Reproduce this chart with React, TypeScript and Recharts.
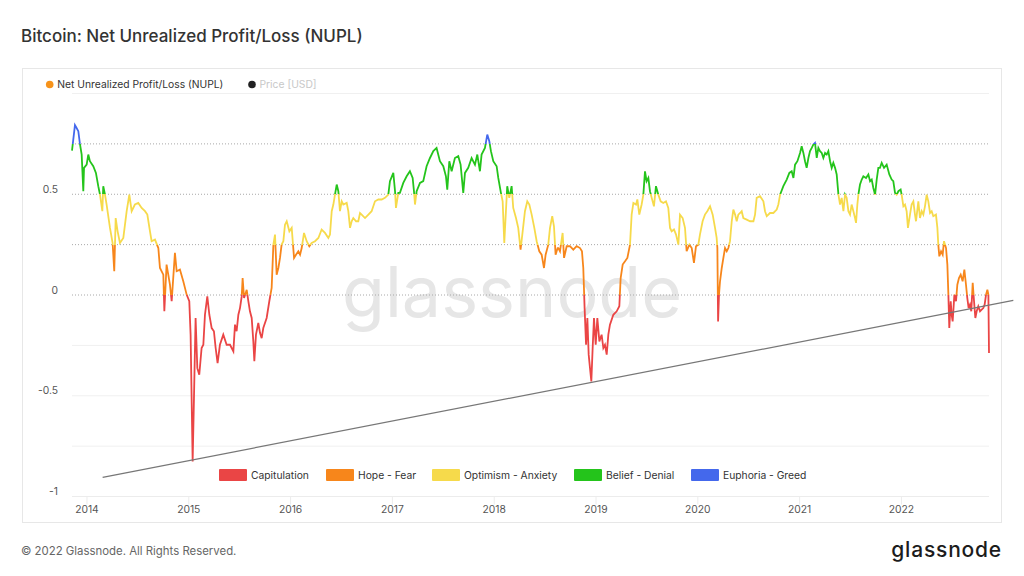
import { LineChart, Line, XAxis, YAxis, ReferenceLine } from 'recharts';

// NUPL readings, [year, value]
const nupl2013to2015: [number, number][] = [
  [2013.853, 0.717], [2013.882, 0.843], [2013.898, 0.829], [2013.915, 0.813], [2013.931, 0.75],
  [2013.948, 0.697], [2013.964, 0.515], [2013.971, 0.631], [2013.997, 0.647], [2014.013, 0.697],
  [2014.029, 0.664], [2014.062, 0.639], [2014.088, 0.606], [2014.111, 0.54], [2014.128, 0.498],
  [2014.151, 0.416], [2014.16, 0.54], [2014.177, 0.498], [2014.193, 0.449], [2014.226, 0.333],
  [2014.252, 0.258], [2014.268, 0.118], [2014.282, 0.382], [2014.301, 0.316], [2014.324, 0.258],
  [2014.357, 0.283], [2014.39, 0.416], [2014.416, 0.498], [2014.439, 0.416], [2014.471, 0.449],
  [2014.504, 0.457], [2014.537, 0.432], [2014.57, 0.416], [2014.593, 0.399], [2014.619, 0.316],
  [2014.635, 0.267], [2014.668, 0.275], [2014.701, 0.233], [2014.717, 0.134], [2014.75, 0.101],
  [2014.76, -0.081], [2014.782, 0.151], [2014.815, 0.051], [2014.832, -0.031], [2014.864, 0.209],
  [2014.881, 0.118], [2014.913, 0.126], [2014.946, 0.068], [2014.979, 0.002], [2015.005, -0.031],
  [2015.018, -0.197], [2015.038, -0.826], [2015.051, -0.512], [2015.067, -0.114], [2015.084, -0.363],
  [2015.103, -0.396], [2015.126, -0.263], [2015.143, -0.247], [2015.159, -0.098], [2015.182, -0.007],
  [2015.202, -0.098], [2015.225, -0.164], [2015.247, -0.18], [2015.264, -0.263], [2015.283, -0.338],
  [2015.306, -0.247], [2015.339, -0.197], [2015.372, -0.247], [2015.405, -0.247],
];

const nupl2015to2016: [number, number][] = [
  [2015.438, -0.28], [2015.454, -0.147], [2015.47, -0.18], [2015.487, -0.098], [2015.503, -0.065],
  [2015.52, -0.007], [2015.529, 0.084], [2015.543, -0.015], [2015.569, 0.026], [2015.585, -0.031],
  [2015.601, -0.081], [2015.618, -0.114], [2015.634, -0.23], [2015.644, -0.329], [2015.66, -0.197],
  [2015.683, -0.139], [2015.7, -0.189], [2015.716, -0.214], [2015.732, -0.164], [2015.765, -0.114],
  [2015.791, -0.031], [2015.814, 0.035], [2015.831, 0.25], [2015.847, 0.3], [2015.863, 0.101],
  [2015.88, 0.134], [2015.896, 0.184], [2015.912, 0.25], [2015.929, 0.267], [2015.945, 0.349],
  [2015.962, 0.366], [2015.988, 0.316], [2016.011, 0.333], [2016.034, 0.184], [2016.053, 0.2],
  [2016.076, 0.217], [2016.093, 0.2], [2016.109, 0.233], [2016.132, 0.308], [2016.158, 0.267],
  [2016.184, 0.242], [2016.207, 0.258], [2016.24, 0.267], [2016.273, 0.283], [2016.305, 0.325],
  [2016.338, 0.308], [2016.371, 0.283], [2016.387, 0.3], [2016.404, 0.416], [2016.42, 0.449],
  [2016.436, 0.498], [2016.453, 0.548], [2016.469, 0.515], [2016.485, 0.416], [2016.502, 0.465],
  [2016.518, 0.449], [2016.551, 0.457], [2016.567, 0.416], [2016.584, 0.333], [2016.6, 0.366],
  [2016.616, 0.382], [2016.643, 0.366], [2016.665, 0.366], [2016.682, 0.407], [2016.698, 0.399],
  [2016.731, 0.382], [2016.764, 0.399], [2016.796, 0.416], [2016.829, 0.465], [2016.862, 0.474],
  [2016.895, 0.474], [2016.927, 0.482], [2016.96, 0.498], [2016.976, 0.565], [2017.009, 0.606],
  [2017.026, 0.515], [2017.035, 0.432], [2017.058, 0.507],
];

const nupl2017to2018: [number, number][] = [
  [2017.074, 0.507], [2017.107, 0.556], [2017.14, 0.589], [2017.172, 0.614], [2017.199, 0.581],
  [2017.212, 0.515], [2017.222, 0.449], [2017.238, 0.515], [2017.271, 0.556], [2017.303, 0.565],
  [2017.336, 0.639], [2017.369, 0.68], [2017.402, 0.714], [2017.434, 0.73], [2017.467, 0.664],
  [2017.5, 0.639], [2017.526, 0.589], [2017.539, 0.523], [2017.559, 0.664], [2017.582, 0.614],
  [2017.614, 0.68], [2017.647, 0.689], [2017.67, 0.647], [2017.696, 0.507], [2017.713, 0.606],
  [2017.745, 0.631], [2017.778, 0.68], [2017.811, 0.647], [2017.834, 0.697], [2017.86, 0.614],
  [2017.876, 0.697], [2017.909, 0.73], [2017.932, 0.796], [2017.952, 0.763], [2017.968, 0.714],
  [2017.991, 0.664], [2018.024, 0.639], [2018.04, 0.581], [2018.066, 0.507], [2018.083, 0.465],
  [2018.099, 0.258], [2018.115, 0.416], [2018.128, 0.54], [2018.148, 0.482], [2018.171, 0.54],
  [2018.187, 0.432], [2018.214, 0.382], [2018.236, 0.333], [2018.259, 0.225], [2018.276, 0.3],
  [2018.302, 0.416], [2018.325, 0.465], [2018.345, 0.449], [2018.368, 0.399], [2018.394, 0.333],
  [2018.417, 0.267], [2018.443, 0.217], [2018.466, 0.2], [2018.489, 0.134], [2018.505, 0.2],
  [2018.531, 0.25], [2018.548, 0.333], [2018.57, 0.391], [2018.587, 0.341], [2018.603, 0.2],
  [2018.623, 0.233],
];

const nupl2018to2020: [number, number][] = [
  [2018.63, 0.233], [2018.646, 0.217], [2018.672, 0.308], [2018.686, 0.184], [2018.712, 0.242],
  [2018.744, 0.242], [2018.777, 0.225], [2018.81, 0.242], [2018.843, 0.233], [2018.862, 0.217],
  [2018.875, 0.134], [2018.888, -0.065], [2018.902, -0.247], [2018.915, -0.114], [2018.928, -0.296],
  [2018.941, -0.363], [2018.954, -0.429], [2018.967, -0.263], [2018.98, -0.114], [2018.997, -0.247],
  [2019.013, -0.114], [2019.033, -0.23], [2019.055, -0.197], [2019.072, -0.263], [2019.088, -0.247],
  [2019.105, -0.296], [2019.121, -0.197], [2019.137, -0.147], [2019.17, -0.098], [2019.203, -0.081],
  [2019.229, -0.056], [2019.242, 0.084], [2019.262, 0.151], [2019.285, 0.167], [2019.308, 0.184],
  [2019.334, 0.25], [2019.35, 0.399], [2019.367, 0.457], [2019.393, 0.449], [2019.406, 0.474],
  [2019.425, 0.399], [2019.448, 0.449], [2019.465, 0.498], [2019.481, 0.614], [2019.497, 0.565],
  [2019.514, 0.581], [2019.53, 0.515], [2019.547, 0.482], [2019.569, 0.44], [2019.589, 0.54],
  [2019.612, 0.498], [2019.635, 0.465], [2019.661, 0.457], [2019.687, 0.465], [2019.71, 0.432],
  [2019.727, 0.333], [2019.743, 0.316], [2019.766, 0.325], [2019.786, 0.3], [2019.809, 0.25],
  [2019.825, 0.399], [2019.851, 0.382], [2019.874, 0.333], [2019.89, 0.217], [2019.917, 0.25],
  [2019.94, 0.233], [2019.962, 0.159], [2019.982, 0.242], [2020.005, 0.25], [2020.021, 0.3],
  [2020.047, 0.366], [2020.07, 0.399], [2020.093, 0.416], [2020.12, 0.44],
];

const nupl2020to2021: [number, number][] = [
  [2020.146, 0.399], [2020.169, 0.333], [2020.185, 0.283], [2020.192, 0.233], [2020.199, -0.131],
  [2020.208, 0.002], [2020.218, 0.068], [2020.235, 0.134], [2020.251, 0.184], [2020.267, 0.233],
  [2020.284, 0.217], [2020.3, 0.233], [2020.316, 0.267], [2020.333, 0.366], [2020.349, 0.424],
  [2020.366, 0.399], [2020.382, 0.366], [2020.398, 0.399], [2020.415, 0.407], [2020.431, 0.416],
  [2020.447, 0.382], [2020.48, 0.374], [2020.513, 0.366], [2020.546, 0.366], [2020.562, 0.399],
  [2020.578, 0.482], [2020.611, 0.49], [2020.644, 0.465], [2020.66, 0.416], [2020.677, 0.391],
  [2020.709, 0.407], [2020.742, 0.407], [2020.775, 0.424], [2020.791, 0.449], [2020.808, 0.498],
  [2020.84, 0.54], [2020.873, 0.573], [2020.899, 0.606], [2020.922, 0.614], [2020.939, 0.581],
  [2020.955, 0.647], [2020.978, 0.664], [2021.004, 0.705], [2021.02, 0.738], [2021.037, 0.705],
  [2021.053, 0.664], [2021.069, 0.631], [2021.086, 0.68], [2021.102, 0.714], [2021.119, 0.73],
  [2021.135, 0.747], [2021.151, 0.755], [2021.168, 0.68], [2021.184, 0.73], [2021.2, 0.714],
  [2021.217, 0.705], [2021.233, 0.68], [2021.25, 0.705], [2021.266, 0.697], [2021.282, 0.714],
  [2021.299, 0.664], [2021.315, 0.631], [2021.331, 0.656], [2021.348, 0.631], [2021.364, 0.598],
  [2021.381, 0.498], [2021.397, 0.449], [2021.413, 0.482], [2021.43, 0.416], [2021.446, 0.498],
  [2021.462, 0.482], [2021.479, 0.416], [2021.495, 0.399], [2021.511, 0.449], [2021.528, 0.416],
  [2021.544, 0.382], [2021.554, 0.358], [2021.567, 0.449], [2021.577, 0.498], [2021.593, 0.548],
  [2021.61, 0.573], [2021.626, 0.589], [2021.652, 0.581], [2021.675, 0.598], [2021.692, 0.565],
  [2021.708, 0.573], [2021.724, 0.531], [2021.741, 0.498], [2021.757, 0.573], [2021.773, 0.631],
];

const nupl2021to2022: [number, number][] = [
  [2021.789, 0.631], [2021.806, 0.656], [2021.829, 0.631], [2021.855, 0.647], [2021.881, 0.598],
  [2021.904, 0.573], [2021.92, 0.565], [2021.937, 0.507], [2021.953, 0.498], [2021.97, 0.515],
  [2021.992, 0.523], [2022.002, 0.498], [2022.019, 0.44], [2022.035, 0.449], [2022.051, 0.416],
  [2022.064, 0.333], [2022.084, 0.399], [2022.1, 0.449], [2022.117, 0.465], [2022.133, 0.399],
  [2022.143, 0.366], [2022.166, 0.465], [2022.182, 0.382], [2022.199, 0.416], [2022.215, 0.399],
  [2022.231, 0.44], [2022.248, 0.498], [2022.264, 0.465], [2022.281, 0.407], [2022.297, 0.416],
  [2022.313, 0.391], [2022.339, 0.399], [2022.353, 0.333], [2022.362, 0.25], [2022.372, 0.192],
  [2022.389, 0.217], [2022.405, 0.2], [2022.418, 0.267], [2022.438, 0.233], [2022.451, 0.151],
  [2022.461, 0.002], [2022.47, -0.164], [2022.484, -0.031], [2022.493, -0.098], [2022.503, -0.131],
  [2022.52, 0.002], [2022.536, -0.031], [2022.549, 0.051], [2022.565, 0.084], [2022.582, 0.101],
  [2022.601, 0.068], [2022.618, 0.126], [2022.634, 0.051], [2022.647, -0.015], [2022.66, -0.065],
  [2022.673, -0.048], [2022.686, -0.081], [2022.7, 0.06], [2022.713, -0.031], [2022.726, -0.114],
  [2022.739, -0.081], [2022.755, -0.056], [2022.772, -0.081], [2022.788, -0.073], [2022.804, -0.065],
  [2022.817, -0.048], [2022.831, 0.002], [2022.844, 0.026], [2022.854, 0.002], [2022.86, -0.288],
];

const yearTicks = [2014, 2015, 2016, 2017, 2018, 2019, 2020, 2021, 2022];
const valueTicks = [-1, -0.5, 0, 0.5];
const dottedLevels = [0.75, 0.5, 0.25, 0];
const solidLevels = [1, -0.25, -0.5, -0.75];

// zones from the top down, split at dottedLevels
const zoneNames = ['Euphoria - Greed', 'Belief - Denial', 'Optimism - Anxiety', 'Hope - Fear', 'Capitulation'];
const zoneColors = ['#4468ec', '#24c41b', '#f6da4b', '#f7861b', '#ea4545'];

const trendStart = { x: 2014.154, y: -0.905 };
const trendEnd = { x: 2023.099, y: -0.027 };

const data = [
  ...nupl2013to2015,
  ...nupl2015to2016,
  ...nupl2017to2018,
  ...nupl2018to2020,
  ...nupl2020to2021,
  ...nupl2021to2022,
].map(([t, v]) => ({ t, v }));

const maxV = Math.max(...data.map((d) => d.v));
const minV = Math.min(...data.map((d) => d.v));
const offsetOf = (level: number) => Math.min(1, Math.max(0, (maxV - level) / (maxV - minV)));

const gradientStops: { offset: number; color: string }[] = [{ offset: 0, color: zoneColors[0] }];
dottedLevels.forEach((level, i) => {
  const o = offsetOf(level);
  gradientStops.push({ offset: o, color: zoneColors[i] });
  gradientStops.push({ offset: o, color: zoneColors[i + 1] });
});
gradientStops.push({ offset: 1, color: zoneColors[zoneColors.length - 1] });

const FONT = 'Inter, "Noto Sans", sans-serif';
const SMALL = 10.3;

const YTick = ({ x, y, payload }: any) => (
  <text x={x} y={y - 1.5} textAnchor="end" fill="#555" fontSize={SMALL} fontFamily={FONT}>
    {payload.value}
  </text>
);

// bottom legend, left to right
const legendOrder = [4, 3, 2, 1, 0];
const legendX = [219, 326, 432, 574, 691];

export default function App() {
  return (
    <div style={{ position: 'absolute', left: 0, top: 0, width: 1024, height: 576, background: '#fff', fontFamily: FONT }}>
      <div
        style={{
          position: 'absolute',
          left: 22,
          top: 68,
          width: 980,
          height: 455,
          border: '1px solid #e7e7e7',
          boxSizing: 'border-box',
        }}
      />

      <svg width={1024} height={576} style={{ position: 'absolute', left: 0, top: 0 }}>
        <text x={512} y={317} textAnchor="middle" fontSize={70} fill="#e6e6e6" fontFamily={FONT}>
          glassnode
        </text>
      </svg>

      <div style={{ position: 'absolute', left: 0, top: 0 }}>
        <LineChart width={1024} height={576} data={data} margin={{ top: 93.5, right: 35, bottom: 49.5, left: 22 }}>
          <defs>
            <linearGradient id="nuplGradient" x1="0" y1="0" x2="0" y2="1">
              {gradientStops.map((s, i) => (
                <stop key={i} offset={s.offset} stopColor={s.color} />
              ))}
            </linearGradient>
          </defs>
          <XAxis
            dataKey="t"
            type="number"
            domain={['dataMin', 'dataMax']}
            ticks={yearTicks}
            height={30}
            axisLine={{ stroke: '#ececec' }}
            tickLine={{ stroke: '#ececec' }}
            tickSize={8}
            tickMargin={1}
            tick={{ fill: '#555', fontSize: SMALL, fontFamily: FONT }}
          />
          <YAxis
            type="number"
            domain={[-1, 1]}
            ticks={valueTicks}
            width={50}
            axisLine={false}
            tickLine={false}
            tickSize={0}
            tickMargin={14}
            tick={<YTick />}
          />
          {solidLevels.map((level) => (
            <ReferenceLine key={`s${level}`} y={level} stroke="#f0f0f0" />
          ))}
          {dottedLevels.map((level) => (
            <ReferenceLine key={`d${level}`} y={level} stroke="#a8a8a8" strokeDasharray="1 2" />
          ))}
          <Line
            dataKey="v"
            type="linear"
            stroke="url(#nuplGradient)"
            strokeWidth={1.8}
            dot={false}
            activeDot={false}
            isAnimationActive={false}
          />
          <ReferenceLine segment={[trendStart, trendEnd]} stroke="#777" strokeWidth={1.2} ifOverflow="visible" />
        </LineChart>
      </div>

      <svg width={1024} height={576} style={{ position: 'absolute', left: 0, top: 0, pointerEvents: 'none' }}>
        <text x={21} y={41.7} fontSize={17} fontWeight={500} fill="#333" fontFamily={FONT}>
          Bitcoin: Net Unrealized Profit/Loss (NUPL)
        </text>

        <circle cx={49.7} cy={84.5} r={3.8} fill="#f7931a" />
        <text x={57.3} y={88.2} fontSize={SMALL} fill="#333" fontFamily={FONT}>
          Net Unrealized Profit/Loss (NUPL)
        </text>
        <circle cx={252} cy={84.5} r={3.8} fill="#222" />
        <text x={259.5} y={88.2} fontSize={SMALL} fill="#c8c8c8" fontFamily={FONT}>
          Price [USD]
        </text>

        {legendOrder.map((zi, i) => (
          <g key={zoneNames[zi]}>
            <rect x={legendX[i]} y={469} width={28} height={12} rx={1} fill={zoneColors[zi]} />
            <text x={legendX[i] + 32} y={478.8} fontSize={SMALL} fill="#333" fontFamily={FONT}>
              {zoneNames[zi]}
            </text>
          </g>
        ))}

        <text x={21} y={555} fontSize={11.4} fill="#666" fontFamily={FONT}>
          © 2022 Glassnode. All Rights Reserved.
        </text>
        <text x={1002} y={556.5} textAnchor="end" fontSize={21} fontWeight={500} letterSpacing={0.8} fill="#1c1c1c" fontFamily={FONT}>
          glassnode
        </text>
      </svg>
    </div>
  );
}
